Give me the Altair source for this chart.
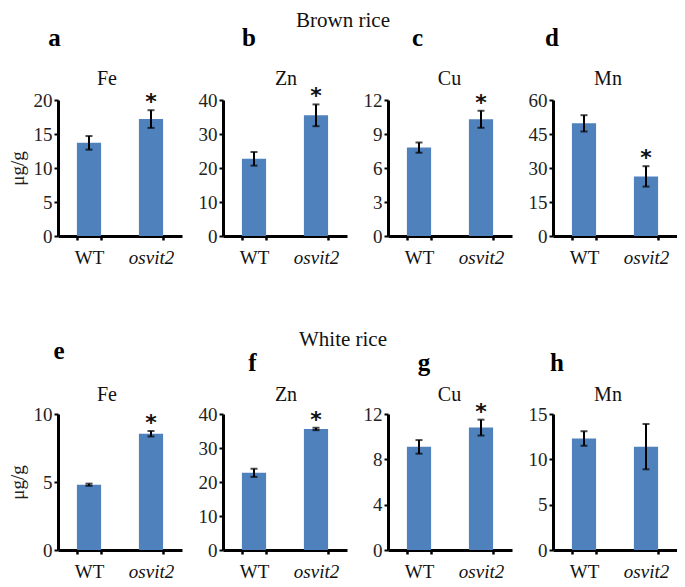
import altair as alt
import pandas as pd

# ---- data ----
elements = ["Fe", "Zn", "Cu", "Mn", "Fe", "Zn", "Cu", "Mn"]
letters = ["a", "b", "c", "d", "e", "f", "g", "h"]
genotypes = ["WT", "osvit2"]
wt_mean = [13.7, 22.7, 7.8, 49.7, 4.8, 22.7, 9.1, 12.3]
wt_err = [1.0, 2.0, 0.45, 3.6, 0.08, 1.2, 0.6, 0.8]
mut_mean = [17.2, 35.5, 10.3, 26.3, 8.55, 35.6, 10.8, 11.4]
mut_err = [1.3, 3.2, 0.75, 4.5, 0.2, 0.35, 0.7, 2.5]
mut_sig = [True, True, True, True, True, True, True, False]
y_max = [20, 40, 12, 60, 10, 40, 12, 15]
y_step = [5, 10, 3, 15, 5, 10, 4, 5]
row_titles = ["Brown rice", "White rice"]
y_title = "μg/g"

# ---- styling / layout constants ----
FONT = "Liberation Serif"
W, H = 124, 136
BAR = "#4F81BD"
title_dx = [49, 63, 61.5, 55]
letter_dx = [-3.5, 26, 29.5, -1, 1, 29.5, 36, 4]
letter_dy = [-54, -54, -54, -54, -55, -43, -43, -43]
elem_dy = [-15, -15, -15, -15, -13, -13, -13, -13]
row_title_dy = [-73, -68]


def panel(i):
    col, row = i % 4, i // 4
    df = pd.DataFrame({
        "genotype": genotypes,
        "mean": [wt_mean[i], mut_mean[i]],
        "err": [wt_err[i], mut_err[i]],
        "star": ["", "*" if mut_sig[i] else ""],
    })
    df["lo"] = df["mean"] - df["err"]
    df["hi"] = df["mean"] + df["err"]

    xaxis = alt.Axis(
        title=None, labelAngle=0, tickBand="extent",
        labelFont=FONT, labelFontSize=19, labelPadding=8, labelColor="#111",
        tickSize=4, tickWidth=2.5, labelOverlap=False,
        labelFontStyle=alt.condition("datum.value == 'osvit2'",
                                     alt.value("italic"), alt.value("normal")),
    )
    xscale = alt.Scale(paddingInner=0.61, paddingOuter=0.305)
    yscale = alt.Scale(domain=[0, y_max[i]], nice=False, zero=True)
    yaxis = alt.Axis(
        values=list(range(0, y_max[i] + 1, y_step[i])),
        grid=False, labelFont=FONT, labelFontSize=19, labelPadding=2,
        labelColor="#222", labelOverlap=False, labelBound=False,
        labelFlush=False, tickSize=4,
        title=y_title if col == 0 else None,
        titleFont=FONT, titleFontSize=19, titleFontWeight="normal",
        titlePadding=6, titleColor="#222",
    )

    def X():
        return alt.X("genotype:N", sort=genotypes, scale=xscale, axis=xaxis)

    def Y(field):
        return alt.Y(field, scale=yscale, axis=yaxis)

    base = alt.Chart(df)
    bars = base.mark_bar(color=BAR).encode(x=X(), y=Y("mean:Q"))
    rule = base.mark_rule(color="black", strokeWidth=2).encode(
        x=X(), y=Y("lo:Q"), y2="hi:Q")
    cap_lo = base.mark_tick(color="black", size=7, thickness=2).encode(
        x=X(), y=Y("lo:Q"))
    cap_hi = base.mark_tick(color="black", size=7, thickness=2).encode(
        x=X(), y=Y("hi:Q"))
    stars = base.mark_text(fontSize=22, fontWeight="bold", font="DejaVu Sans",
                           baseline="alphabetic", dy=-1, color="#111").encode(
        x=X(), y=Y("hi:Q"), text="star:N")

    lab = pd.DataFrame({"t": [letters[i]], "e": [elements[i]]})
    letter = alt.Chart(lab).mark_text(
        font=FONT, fontSize=25, fontWeight="bold", align="center",
        baseline="alphabetic", color="black").encode(
        text="t:N", x=alt.value(letter_dx[i]), y=alt.value(letter_dy[i]))
    elem = alt.Chart(lab).mark_text(
        font=FONT, fontSize=20, align="center", baseline="alphabetic",
        color="#111").encode(
        text="e:N", x=alt.value(title_dx[col]), y=alt.value(elem_dy[i]))
    layers = [bars, rule, cap_lo, cap_hi, stars, letter, elem]
    if col == 1:
        rt = pd.DataFrame({"r": [row_titles[row]]})
        layers.append(alt.Chart(rt).mark_text(
            font=FONT, fontSize=21, align="center", baseline="alphabetic",
            color="#111").encode(
            text="r:N", x=alt.value(120), y=alt.value(row_title_dy[row])))
    return alt.layer(*layers).properties(width=W, height=H)


chart = alt.concat(
    *[panel(i) for i in range(8)], columns=4,
    spacing={"row": 178, "column": 41},
).properties(
    bounds="flush", background="white",
    padding={"left": 0, "top": 2, "right": 0, "bottom": 0},
).configure_view(stroke=None).configure_axis(
    domainColor="black", domainWidth=3, tickColor="black", tickWidth=2,
    labelFont=FONT,
)

chart.save("out.html", embed_options={"renderer": "svg", "actions": False})
